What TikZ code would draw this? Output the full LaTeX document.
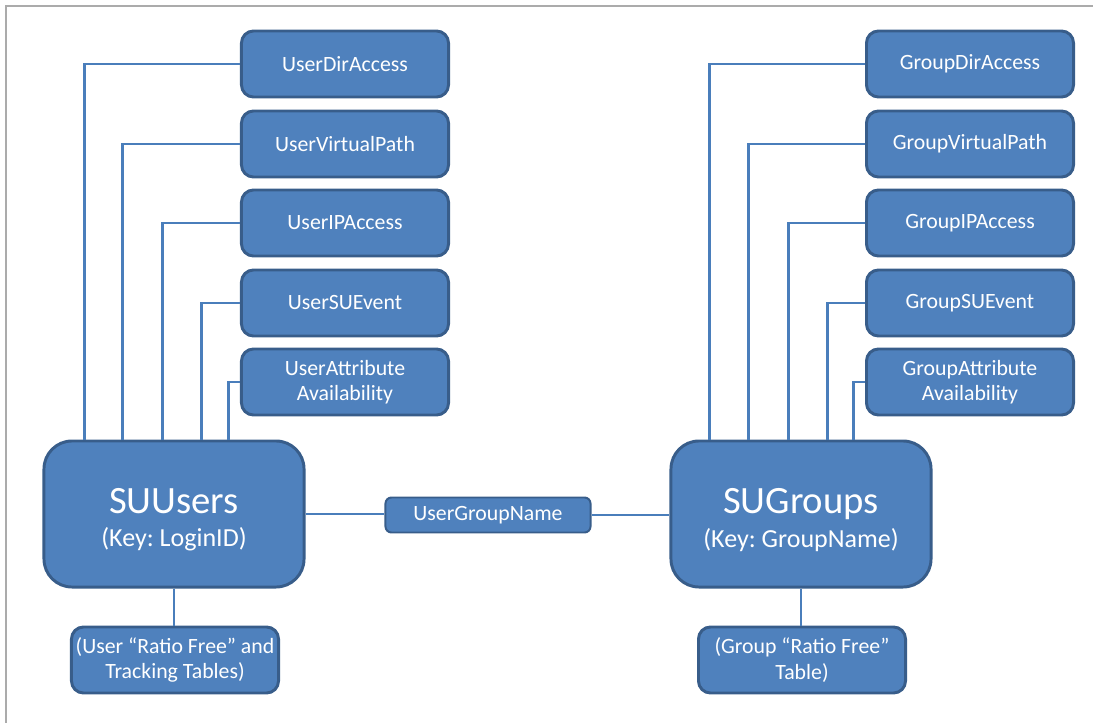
\documentclass[tikz,border=0pt]{standalone}
\usepackage{fontspec}
\newfontfamily\diagfont{Carlito}
\usetikzlibrary{calc}
\frenchspacing
\definecolor{boxfill}{HTML}{4F81BD}
\definecolor{boxline}{HTML}{385D8A}
\definecolor{linkline}{HTML}{4A7EBB}
\definecolor{framegray}{HTML}{ABABAB}
\newcommand{\sutitle}[1]{\rule{0pt}{26pt}{\fontsize{27.5}{24}\selectfont #1}}
\tikzset{
	tablebox/.style={draw=boxline, fill=boxfill, line width=2.1pt, rounded corners=0.3cm, text=white, align=center, inner sep=1pt, minimum width=5.175cm, minimum height=1.65cm, font=\diagfont\fontsize{15.5}{18}\selectfont},
	mainbox/.style={tablebox, rounded corners=0.7cm, minimum width=6.5cm, minimum height=3.65cm, font=\diagfont\fontsize{18.5}{24}\selectfont},
	keybox/.style={tablebox, rounded corners=0.15cm, minimum width=5.125cm, minimum height=0.875cm, line width=1.4pt},
	link/.style={draw=linkline, line width=1.8pt},
}
\begin{document}
\begin{tikzpicture}[x=0.025cm, y=-0.025cm]
			%%%%% START %%%%%
			\useasboundingbox (0, 0) rectangle (1093, 723);
			\draw[framegray, line width=1.4pt] (6, 723) -- (6, 6) -- (1093, 6);
			
			\node[mainbox] (suusers) at (174, 514) {\sutitle{SUUsers}\\(Key: LoginID)};
			\node[mainbox] (sugroups) at (801, 514) {\sutitle{SUGroups}\\(Key: GroupName)};
			\node[keybox] (usergroupname) at (488, 515) {UserGroupName};
			
			\node[tablebox] (udiraccess) at (345, 64) {UserDirAccess};
			\node[tablebox] (uvirtualpath) at (345, 144) {UserVirtualPath};
			\node[tablebox] (uipaccess) at (345, 223) {UserIPAccess};
			\node[tablebox] (usuevent) at (345, 303) {UserSUEvent};
			\node[tablebox] (uattribute) at (345, 382) {UserAttribute\\Availability};
			
			\node[tablebox] (gdiraccess) at (970, 64) {GroupDirAccess};
			\node[tablebox] (gvirtualpath) at (970, 144) {GroupVirtualPath};
			\node[tablebox] (gipaccess) at (970, 223) {GroupIPAccess};
			\node[tablebox] (gsuevent) at (970, 303) {GroupSUEvent};
			\node[tablebox] (gattribute) at (970, 382) {GroupAttribute\\Availability};
			
			\node[tablebox] (uratio) at (175, 660) {(User “Ratio Free” and\\Tracking Tables)};
			\node[tablebox] (gratio) at (802, 660) {(Group “Ratio Free”\\Table)};
			
			\draw[link] (udiraccess.west) -| ($(suusers.north west)+(42, 0)$);
			\draw[link] (uvirtualpath.west) -| ($(suusers.north west)+(80, 0)$);
			\draw[link] (uipaccess.west) -| ($(suusers.north west)+(120, 0)$);
			\draw[link] (usuevent.west) -| ($(suusers.north west)+(159, 0)$);
			\draw[link] (uattribute.west) -| ($(suusers.north west)+(186, 0)$);
			
			\draw[link] (gdiraccess.west) -| ($(sugroups.north west)+(40, 0)$);
			\draw[link] (gvirtualpath.west) -| ($(sugroups.north west)+(79, 0)$);
			\draw[link] (gipaccess.west) -| ($(sugroups.north west)+(119, 0)$);
			\draw[link] (gsuevent.west) -| ($(sugroups.north west)+(158, 0)$);
			\draw[link] (gattribute.west) -| ($(sugroups.north west)+(184, 0)$);
			
			\draw[link] (suusers.east) -- (suusers.east -| usergroupname.west);
			\draw[link] (usergroupname.east) -- (usergroupname.east -| sugroups.west);
			\draw[link] (suusers.south) -- (suusers.south |- uratio.north);
			\draw[link] (sugroups.south) -- (sugroups.south |- gratio.north);
			%%%%% END %%%%%
\end{tikzpicture}
\end{document}
